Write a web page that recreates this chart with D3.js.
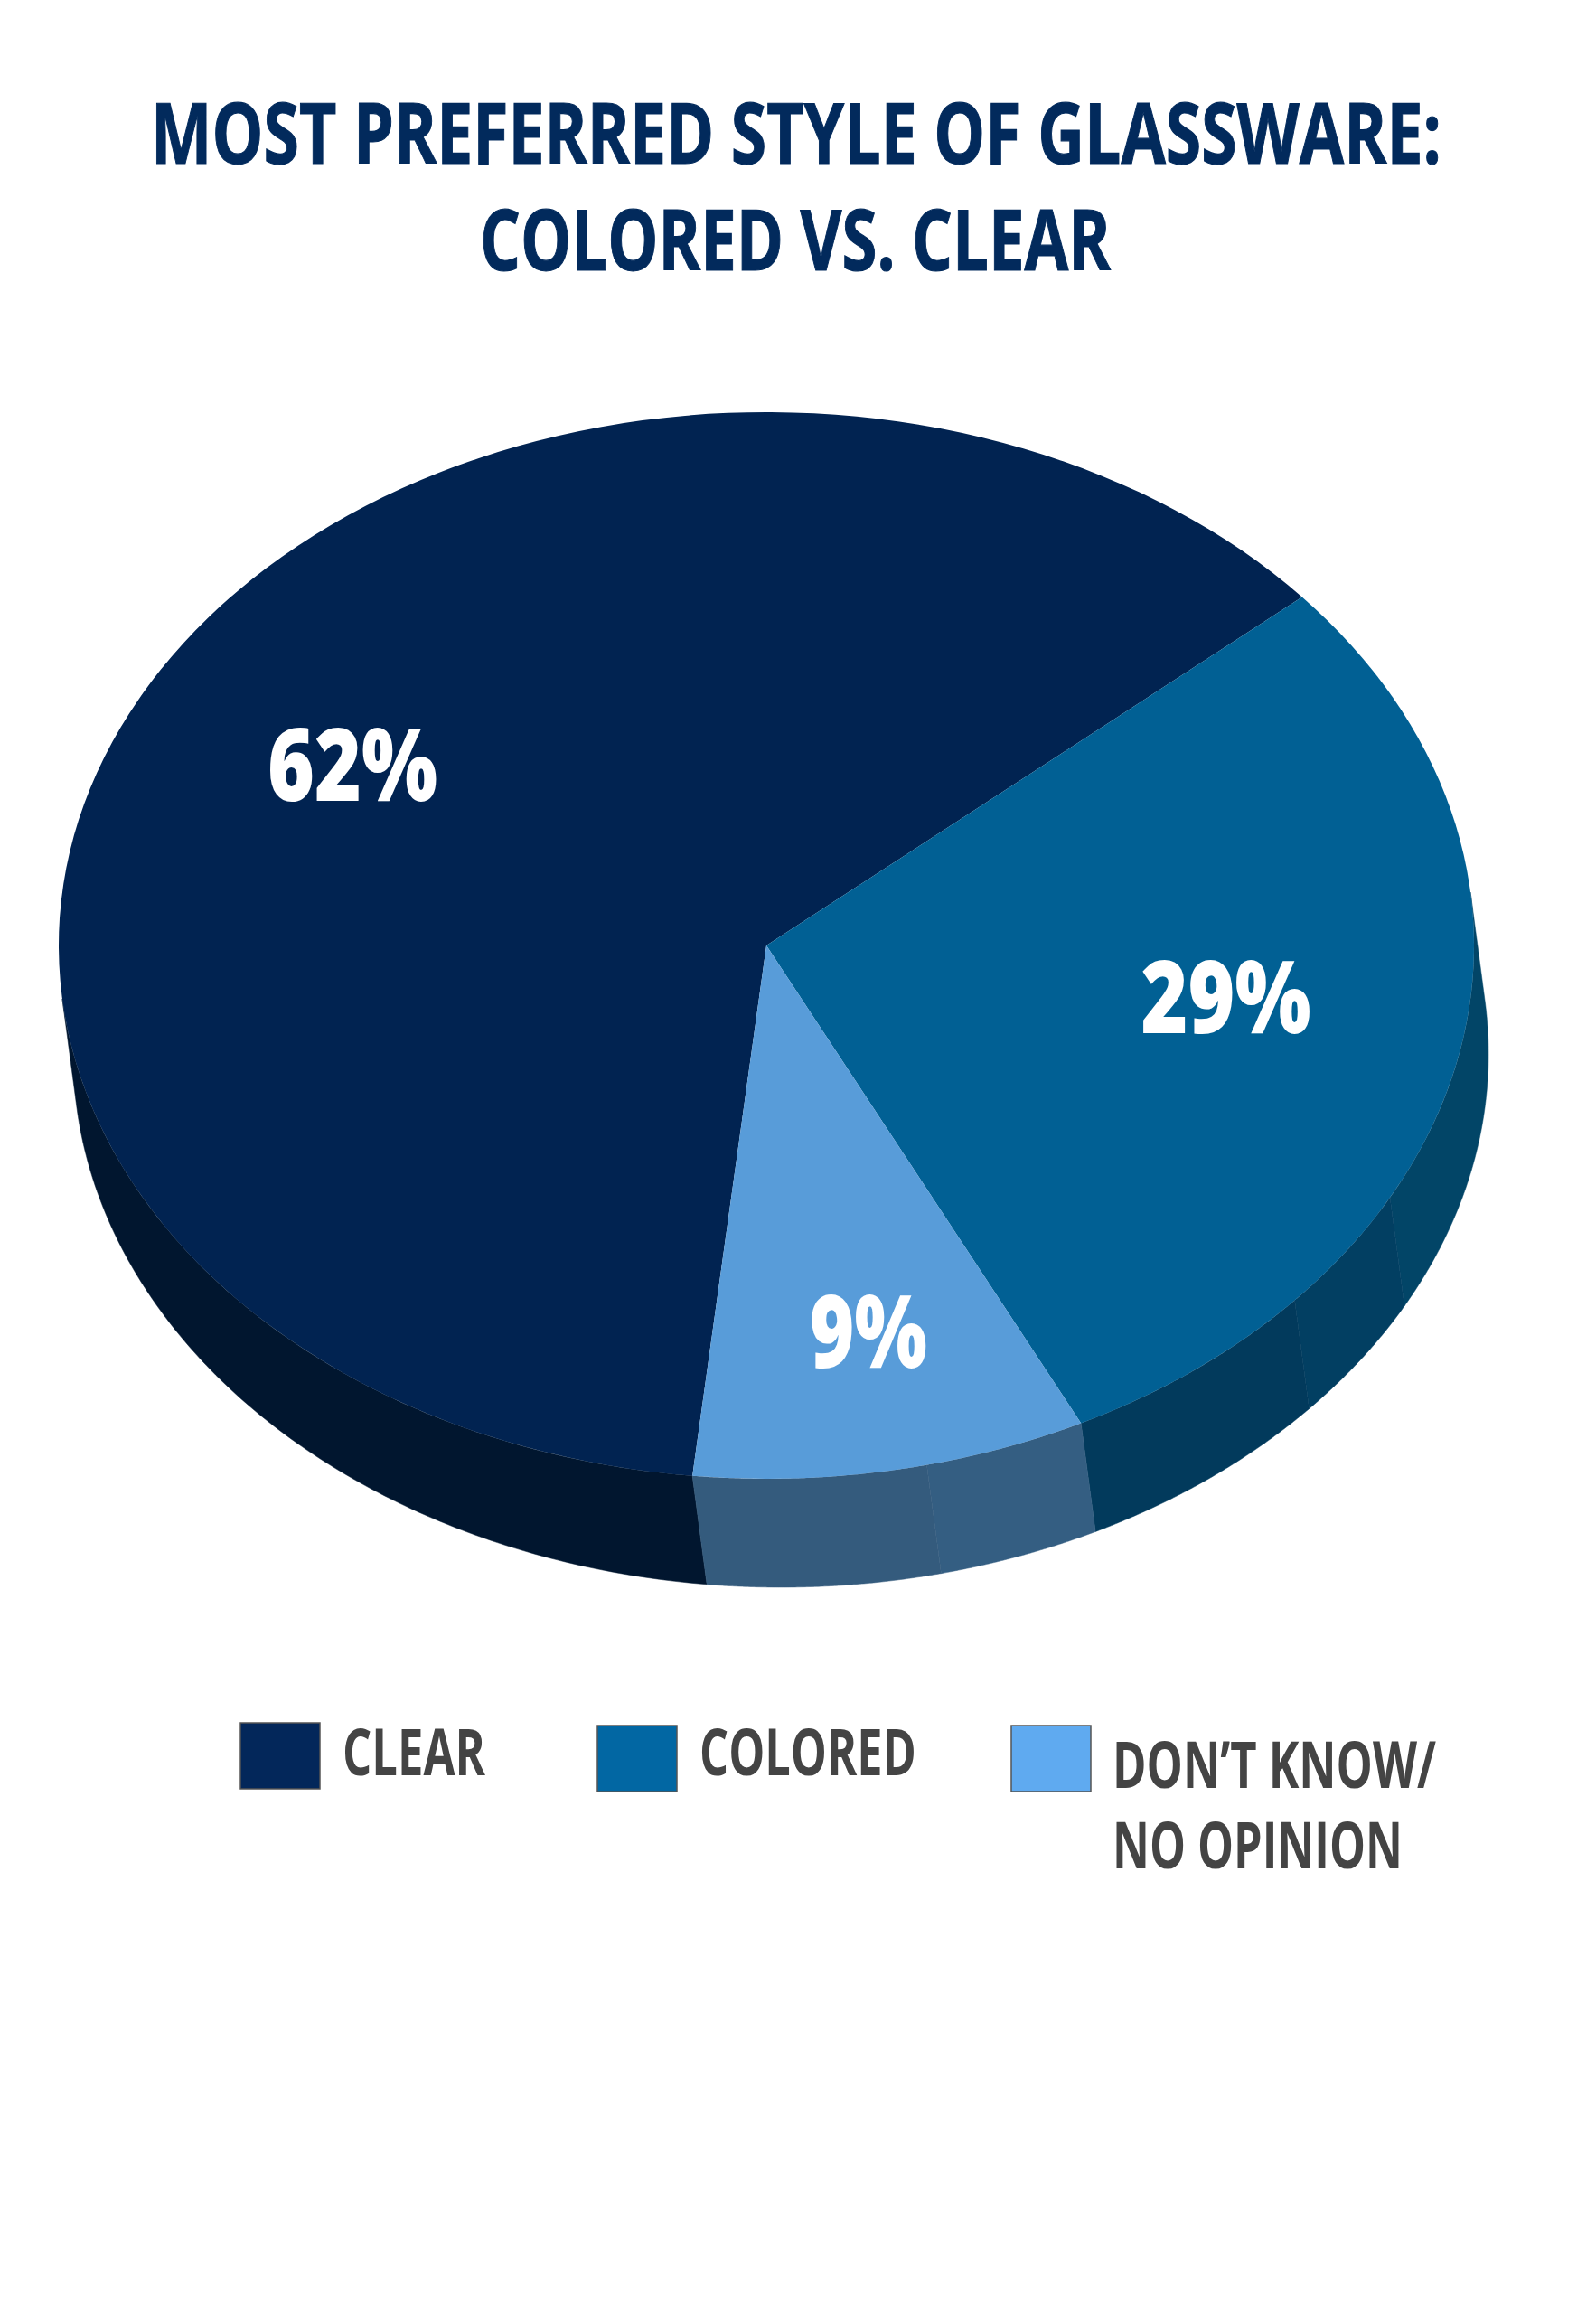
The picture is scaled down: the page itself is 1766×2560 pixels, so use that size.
<!DOCTYPE html>
<html>
<head>
<meta charset="utf-8">
<script src="https://cdn.jsdelivr.net/npm/d3@7"></script>
<style>
    body { margin: 0; background: #fff; }
    text { font-family: "Open Sans", sans-serif; }
</style>
</head>
<body>
<div id="my_dataviz"></div>
<script>
var categories = ["CLEAR", "COLORED", "DON\u2019T KNOW/ NO OPINION"];
var values = [62, 29, 9];
var topColors = ["#012351", "#016094", "#589cd9"];
var swatchColors = ["#03275a", "#0267a3", "#5faaf0"];
var titleLines = ["MOST PREFERRED STYLE OF GLASSWARE:", "COLORED VS. CLEAR"];

// wall shading of each slice: the wall gets lighter to the right
var wallShades = [
    [{ from: 0, color: "#01162f" }],
    [{ from: 0, color: "#024567" }, { from: 118.2, color: "#023f62" }, { from: 131.7, color: "#023a5c" }],
    [{ from: 0, color: "#345e82" }, { from: 166.9, color: "#345b7d" }]
];

var width = 1766, height = 2560;
var cx = 848, cy = 1046, rx = 783, ry = 590;
var depth = { x: 16, y: 120 };
var startAngle = 186 * Math.PI / 180;

var svg = d3.select("#my_dataviz").append("svg")
    .attr("width", width)
    .attr("height", height);

// squeeze a text to a given width, fonts here are wider than the original condensed face
function fit(selection, getX, getY, getLen) {
    selection.attr("transform", function (d, i) {
        var natural = this.getComputedTextLength();
        return "translate(" + getX(d, i) + "," + getY(d, i) + ") scale(" + (getLen(d, i) / natural) + ",1)";
    });
}

// title
var titleSpots = [
    { x: 881, y: 181, len: 1428 },
    { x: 880, y: 299, len: 698 }
];
svg.selectAll(".title")
    .data(titleLines)
    .enter()
    .append("text")
    .attr("class", "title")
    .attr("text-anchor", "middle")
    .style("font-size", "94px")
    .style("font-weight", "bold")
    .style("fill", "#022a5c")
    .style("stroke", "#022a5c")
    .style("stroke-width", "1.2px")
    .text(function (d) { return d; })
    .call(fit,
        function (d, i) { return titleSpots[i].x; },
        function (d, i) { return titleSpots[i].y; },
        function (d, i) { return titleSpots[i].len; });

var pie = d3.pie()
    .sort(null)
    .startAngle(startAngle)
    .endAngle(startAngle + 2 * Math.PI);
var arcs = pie(values);

var arc = d3.arc().innerRadius(0).outerRadius(rx);

// point on the rim for an angle measured clockwise from the top
function rim(a, dx, dy) {
    return [cx + dx + rx * Math.sin(a), cy + dy - ry * Math.cos(a)];
}

// front of the wall runs between the two angles where the rim is parallel to the depth
var frontStart = Math.atan2(depth.y / ry, depth.x / rx);
var frontEnd = frontStart + Math.PI;

function wallPieces() {
    var pieces = [];
    arcs.forEach(function (d, i) {
        var a0 = d.startAngle, a1 = d.endAngle;
        // the slice may start past a full turn
        if (a0 >= 2 * Math.PI) { a0 -= 2 * Math.PI; a1 -= 2 * Math.PI; }
        a0 = Math.max(a0, frontStart);
        a1 = Math.min(a1, frontEnd);
        wallShades[i].forEach(function (s, k) {
            var next = wallShades[i][k + 1];
            var from = Math.max(a0, s.from * Math.PI / 180);
            var to = next ? Math.min(a1, next.from * Math.PI / 180) : a1;
            if (to > from) pieces.push({ from: from, to: to, color: s.color });
        });
    });
    return pieces;
}

svg.append("g").selectAll("path")
    .data(wallPieces())
    .enter()
    .append("path")
    .attr("fill", function (d) { return d.color; })
    .attr("stroke", function (d) { return d.color; })
    .attr("stroke-width", 0.5)
    .attr("d", function (d) {
        var angles = d3.range(0, 121).map(function (k) {
            return d.from + (d.to - d.from) * k / 120;
        });
        var pts = angles.map(function (a) { return rim(a, 0, 0); })
            .concat(angles.slice().reverse().map(function (a) { return rim(a, depth.x, depth.y); }));
        return d3.line()(pts) + "Z";
    });

var pieTop = svg.append("g")
    .attr("transform", "translate(" + cx + "," + cy + ") scale(1," + (ry / rx) + ")");
pieTop.selectAll("path")
    .data(arcs)
    .enter()
    .append("path")
    .attr("fill", function (d, i) { return topColors[i]; })
    .attr("d", arc);

// percent labels
var labelRadius = [0.66, 0.66, 0.77];
var labelLength = [188, 188, 130];
var labelNudge = [0, 2, 6];
svg.selectAll(".pct")
    .data(arcs)
    .enter()
    .append("text")
    .attr("class", "pct")
    .attr("text-anchor", "middle")
    .style("font-size", "112px")
    .style("font-weight", "800")
    .style("fill", "#fff")
    .text(function (d) { return d.data + "%"; })
    .call(fit,
        function (d, i) {
            var a = (d.startAngle + d.endAngle) / 2;
            return cx + labelRadius[i] * rx * Math.sin(a) + labelNudge[i];
        },
        function (d, i) {
            var a = (d.startAngle + d.endAngle) / 2;
            return cy - labelRadius[i] * ry * Math.cos(a) + 20;
        },
        function (d, i) { return labelLength[i]; });

// legend
var swatchX = [266, 661, 1119];
var swatchY = [1906, 1909, 1909];
svg.selectAll(".swatch")
    .data(categories)
    .enter()
    .append("rect")
    .attr("class", "swatch")
    .attr("x", function (d, i) { return swatchX[i]; })
    .attr("y", function (d, i) { return swatchY[i]; })
    .attr("width", 88)
    .attr("height", 73)
    .attr("fill", function (d, i) { return swatchColors[i]; })
    .attr("stroke", "#555")
    .attr("stroke-width", 1.5);

var legendLines = [
    { text: "CLEAR", x: 379, y: 1964, len: 158 },
    { text: "COLORED", x: 774, y: 1964, len: 240 },
    { text: "DON\u2019T KNOW/", x: 1231, y: 1978, len: 358 },
    { text: "NO OPINION", x: 1231, y: 2067, len: 321 }
];
svg.selectAll(".legend-text")
    .data(legendLines)
    .enter()
    .append("text")
    .attr("class", "legend-text")
    .style("font-size", "72px")
    .style("font-weight", "bold")
    .style("fill", "#444")
    .text(function (d) { return d.text; })
    .call(fit,
        function (d) { return d.x; },
        function (d) { return d.y; },
        function (d) { return d.len; });
</script>
</body>
</html>
